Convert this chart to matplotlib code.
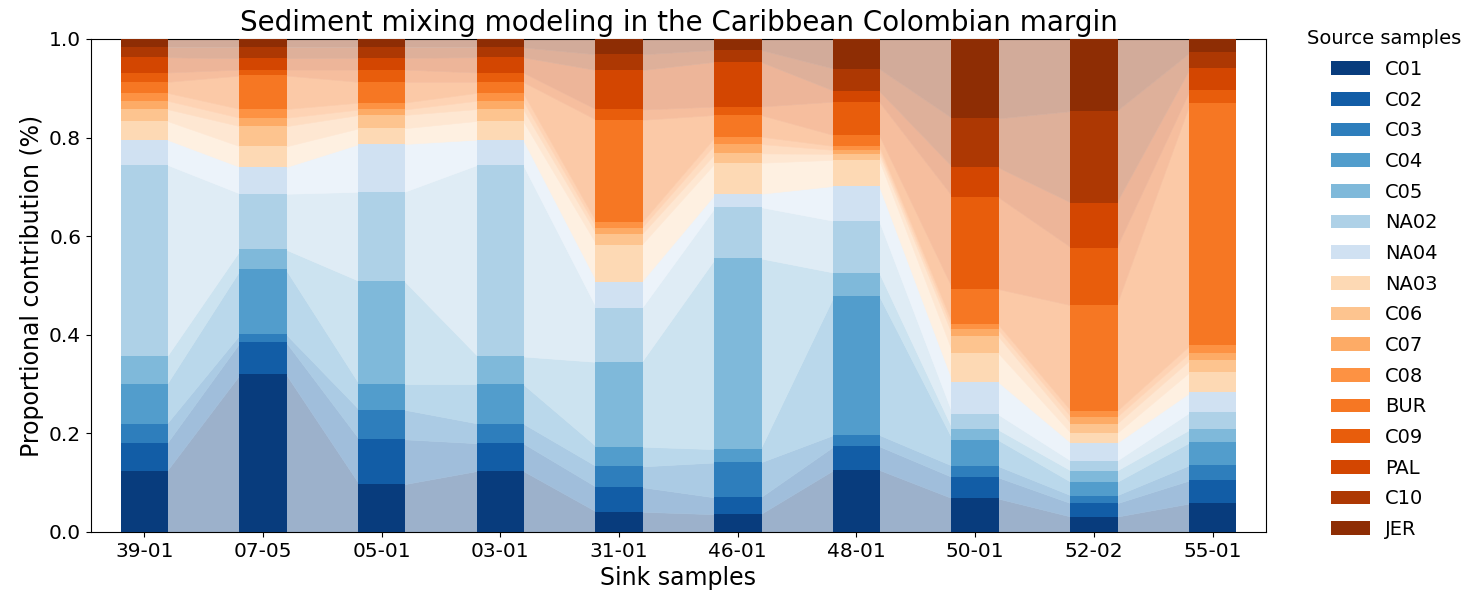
"""
Sediment mixing model: stacked bars of source contributions per sink sample,
with translucent ribbons linking neighbouring bars.
Writes out.png
"""
import numpy as np
import matplotlib
matplotlib.use("Agg")
import matplotlib.pyplot as plt
from matplotlib.patches import Patch

# Sink samples (x axis)
sinks = ["39-01", "07-05", "05-01", "03-01", "31-01",
         "46-01", "48-01", "50-01", "52-02", "55-01"]

# Source samples, bottom -> top of the stack
sources = ["C01", "C02", "C03", "C04", "C05", "NA02", "NA04",
           "NA03", "C06", "C07", "C08", "BUR", "C09", "PAL", "C10", "JER"]

# Proportional contribution of each source, one value per sink
C01  = [0.124, 0.321, 0.097, 0.124, 0.041, 0.036, 0.126, 0.068, 0.031, 0.058]
C02  = [0.056, 0.065, 0.091, 0.056, 0.050, 0.034, 0.048, 0.043, 0.027, 0.047]
C03  = [0.040, 0.016, 0.060, 0.040, 0.042, 0.071, 0.023, 0.023, 0.016, 0.031]
C04  = [0.080, 0.131, 0.052, 0.080, 0.040, 0.027, 0.282, 0.053, 0.027, 0.046]
C05  = [0.056, 0.040, 0.209, 0.056, 0.172, 0.387, 0.047, 0.021, 0.023, 0.026]
NA02 = [0.389, 0.113, 0.181, 0.389, 0.109, 0.104, 0.105, 0.031, 0.020, 0.035]
NA04 = [0.051, 0.054, 0.097, 0.051, 0.054, 0.027, 0.071, 0.066, 0.036, 0.040]
NA03 = [0.038, 0.042, 0.032, 0.038, 0.075, 0.063, 0.053, 0.059, 0.020, 0.042]
C06  = [0.024, 0.041, 0.027, 0.024, 0.021, 0.019, 0.012, 0.034, 0.019, 0.024]
C07  = [0.017, 0.017, 0.011, 0.017, 0.013, 0.019, 0.008, 0.013, 0.014, 0.015]
C08  = [0.016, 0.018, 0.014, 0.016, 0.011, 0.015, 0.008, 0.011, 0.012, 0.015]
BUR  = [0.022, 0.068, 0.042, 0.022, 0.208, 0.044, 0.022, 0.071, 0.215, 0.491]
C09  = [0.019, 0.012, 0.025, 0.019, 0.021, 0.017, 0.068, 0.187, 0.117, 0.027]
PAL  = [0.031, 0.023, 0.024, 0.031, 0.080, 0.091, 0.022, 0.060, 0.091, 0.044]
C10  = [0.020, 0.022, 0.021, 0.020, 0.032, 0.024, 0.045, 0.099, 0.186, 0.032]
JER  = [0.017, 0.017, 0.017, 0.017, 0.031, 0.022, 0.060, 0.161, 0.146, 0.027]

props = np.array([C01, C02, C03, C04, C05, NA02, NA04, NA03,
                  C06, C07, C08, BUR, C09, PAL, C10, JER])

# Blues for the first 7 sources, Oranges for the other 9
colors = np.vstack([plt.cm.Blues(np.linspace(0.95, 0.2, 7)),
                    plt.cm.Oranges(np.linspace(0.2, 0.95, 9))])

W = 0.4       # bar width
ALPHA = 0.4   # ribbons (pre-blended on white to avoid seams)
ribbon_colors = colors[:, :3] * ALPHA + (1 - ALPHA)

fig = plt.figure(figsize=(14.81, 5.97), dpi=100)
ax = fig.add_axes([0.0614, 0.1089, 0.7934, 0.8258])

x = np.arange(len(sinks))
bottoms = np.vstack([np.zeros(len(sinks)), np.cumsum(props, axis=0)[:-1]])
tops = bottoms + props

for k, src in enumerate(sources):
    ax.bar(x, props[k], W, bottom=bottoms[k], color=colors[k],
           linewidth=0, zorder=3)
    # ribbons between neighbouring bars (tucked slightly under the bars)
    for i in range(len(sinks) - 1):
        xs = [x[i] + W / 2 - 0.01, x[i + 1] - W / 2 + 0.01]
        ax.fill_between(xs, [bottoms[k, i], bottoms[k, i + 1]],
                        [tops[k, i], tops[k, i + 1]],
                        facecolor=ribbon_colors[k], edgecolor=ribbon_colors[k],
                        linewidth=0.4, zorder=2)

ax.set_xlim(-0.45, len(sinks) - 0.55)
ax.set_ylim(0, 1)
ax.set_xticks(x)
ax.set_xticklabels(sinks)
ax.tick_params(labelsize=14.5)
ax.set_xlabel("Sink samples", fontsize=17)
ax.set_ylabel("Proportional contribution (%)", fontsize=17)
ax.set_title("Sediment mixing modeling in the Caribbean Colombian margin",
             fontsize=20)

handles = [Patch(facecolor=colors[k], label=s) for k, s in enumerate(sources)]
ax.legend(handles=handles, title="Source samples", loc="upper left",
          bbox_to_anchor=(1.02, 1.055), frameon=False, labelspacing=0.6,
          fontsize=14, title_fontsize=14)

fig.savefig("out.png", dpi=100)
